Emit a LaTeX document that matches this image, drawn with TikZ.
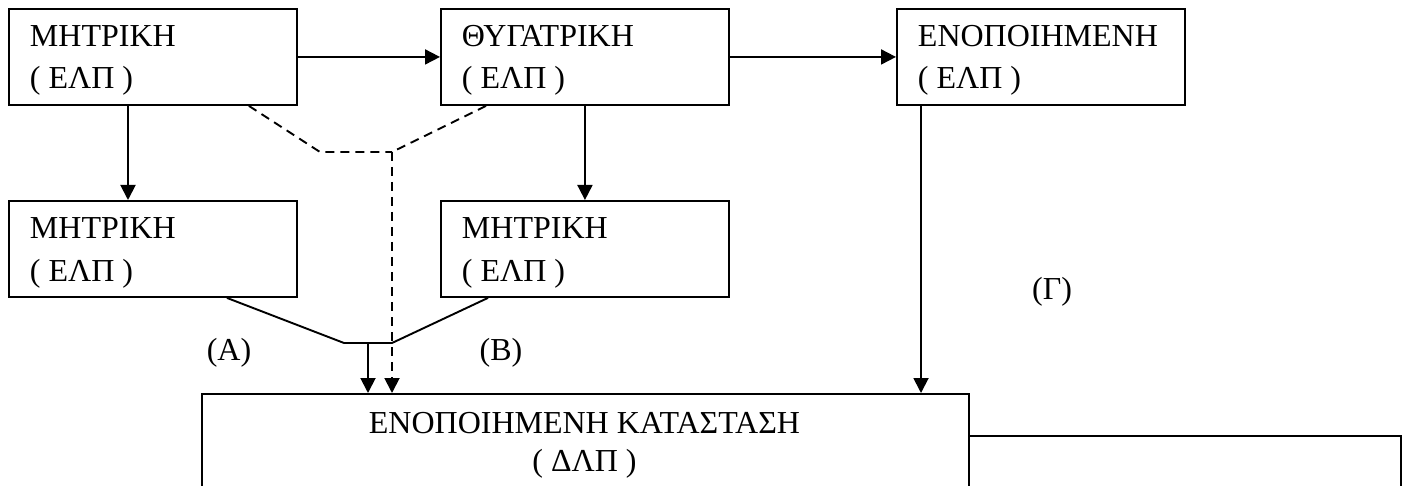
\documentclass[tikz,border=0pt]{standalone}
\usepackage{fontspec}
\setmainfont{Liberation Serif}
\usetikzlibrary{arrows.meta}
\begin{document}
\begin{tikzpicture}[x=1pt,y=-1pt,
  line width=1.9pt,
  box/.style={draw, rectangle, minimum width=288pt, minimum height=96pt, anchor=north west, inner sep=0pt},
  txt/.style={inner sep=0pt, font=\fontsize{32}{38}\selectfont},
  arr/.style={-{Triangle[length=15pt,width=15pt]}},
  dsh/.style={dash pattern=on 9pt off 6pt}]
\clip (0,0) rectangle (1407,486);
\fill[white] (0,0) rectangle (1407,486);
% boxes
\node[box] (b1) at (8,8) {};
\node[box] (b2) at (440,8) {};
\node[box] (b3) at (896,8) {};
\node[box] (b4) at (8,200) {};
\node[box] (b5) at (440,200) {};
\node[box, minimum width=767pt, minimum height=200pt] (dlp) at (201,393) {};
\node[box, minimum width=432pt, minimum height=200pt] (rb) at (968,435) {};
% texts
\node[txt, anchor=base west] (t1a) at (29,47) {ΜΗΤΡΙΚΗ};
\node[txt, anchor=base west] (t1b) at (29,89) {( ΕΛΠ )};
\node[txt, anchor=base west] (t2a) at (461,47) {^^^^0398ΥΓΑΤΡΙΚΗ};
\node[txt, anchor=base west] (t2b) at (461,89) {( ΕΛΠ )};
\node[txt, anchor=base west] (t3a) at (917,47) {ΕΝΟΠΟΙΗΜΕΝΗ};
\node[txt, anchor=base west] (t3b) at (917,89) {( ΕΛΠ )};
\node[txt, anchor=base west] (t4a) at (29,239) {ΜΗΤΡΙΚΗ};
\node[txt, anchor=base west] (t4b) at (29,281) {( ΕΛΠ )};
\node[txt, anchor=base west] (t5a) at (461,239) {ΜΗΤΡΙΚΗ};
\node[txt, anchor=base west] (t5b) at (461,281) {( ΕΛΠ )};
\node[txt, anchor=base] (t6a) at (584.5,433) {ΕΝΟΠΟΙΗΜΕΝΗ ΚΑΤΑΣΤΑΣΗ};
\node[txt, anchor=base] (t6b) at (584.5,471) {( ΔΛΠ )};
\node[txt, anchor=base] (la) at (229,360) {(A)};
\node[txt, anchor=base] (lb) at (501,360) {(B)};
\node[txt, anchor=base] (lg) at (1052,299) {(Γ)};
% coordinates
\coordinate (x1) at (128,0);
\coordinate (x3) at (921,0);
\coordinate (dk) at (320,152);
\coordinate (dj) at (392,152);
\coordinate (sk) at (344,343);
\coordinate (sj) at (392,343);
\coordinate (sa) at (368,343);
% connectors
\draw[arr] (b1) -- (b2);
\draw[arr] (b2) -- (b3);
\draw[arr] (x1 |- b1.south) -- (x1 |- b4.north);
\draw[arr] (b2.south) -- (b5.north);
\draw[arr] (x3 |- b3.south) -- (x3 |- dlp.north);
\draw[dsh] ([xshift=-49pt]b1.south east) -- (dk) -- (dj);
\draw[dsh] ([xshift=46pt]b2.south west) -- (dj);
\draw[dsh, arr] (dj) -- (dj |- dlp.north);
\draw ([xshift=-71pt]b4.south east) -- (sk) -- (sj) -- ([xshift=48pt]b5.south west);
\draw[arr] (sa) -- (sa |- dlp.north);
\end{tikzpicture}
\end{document}
